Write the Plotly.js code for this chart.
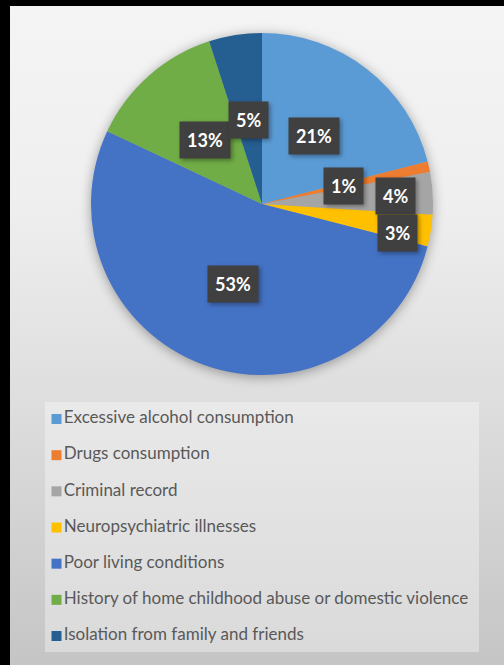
<!DOCTYPE html>
<html><head><meta charset="utf-8">
<script src="https://cdn.plot.ly/plotly-3.0.1.min.js"></script>
<style>
html,body{margin:0;padding:0;background:#fff;}
#wrap{position:relative;width:504px;height:665px;overflow:hidden;
background:linear-gradient(to bottom,#f4f4f4 0%,#efefef 30%,#dedede 60%,#c5c5c5 100%);}
#chart{position:absolute;left:0;top:0;width:504px;height:665px;}
#frame{position:absolute;left:0;top:0;width:504px;height:665px;border-top:6px solid #000;border-left:10px solid #000;box-sizing:border-box;pointer-events:none;}
.pielayer .trace{filter:drop-shadow(0px 2px 6px rgba(0,0,0,0.35));}
.annotation rect.bg{filter:drop-shadow(2px 2px 2px rgba(0,0,0,0.35));}
</style></head><body>
<div id="wrap"><div id="chart"></div><div id="frame"></div></div>
<script>
// ---- data ----
const categories = [
  "Excessive alcohol consumption",
  "Drugs consumption",
  "Criminal record",
  "Neuropsychiatric illnesses",
  "Poor living conditions",
  "History of home childhood abuse or domestic violence",
  "Isolation from family and friends"
];
const shares = [21, 1, 4, 3, 53, 13, 5];
const percentLabels = ["21%", "1%", "4%", "3%", "53%", "13%", "5%"];

// ---- styling / layout constants ----
const colors = ["#5B9BD5", "#ED7D31", "#A5A5A5", "#FFC000", "#4472C4", "#70AD47", "#255E91"];
const labelRadius = [0.5, 0.49, 0.78, 0.8, 0.5, 0.5, 0.5];
const labelShiftY = [0, 0, 0, -8, 0, 0, 0];
const W = 504, H = 665;
const cx = 262, cy = 204, R = 171;           // pie centre / radius in px
const legBox = {x0: 45, x1: 479, y0: 402, y1: 652, firstRow: 419, rowGap: 36.17, markerX: 11.5};

const pie = {
  type: 'pie',
  labels: categories,
  values: shares,
  sort: false,
  direction: 'clockwise',
  rotation: 0,
  textinfo: 'none',
  hoverinfo: 'label+percent',
  marker: {colors: colors, line: {width: 0}},
  domain: {x: [(cx - R) / W, (cx + R) / W], y: [1 - (cy + R) / H, 1 - (cy - R) / H]},
  showlegend: false
};

// legend drawn as a marker+text trace on a hidden axis
const legendTrace = {
  type: 'scatter',
  x: categories.map(() => 0),
  y: categories.map((_, i) => i),
  mode: 'markers+text',
  text: categories,
  textposition: 'middle right',
  textfont: {family: 'Lato, "DejaVu Sans", sans-serif', size: 17, color: '#595959'},
  marker: {symbol: 'square', size: 10, color: colors, line: {width: 0}},
  hoverinfo: 'skip',
  cliponaxis: false,
  showlegend: false
};

const total = shares.reduce((a, b) => a + b, 0);
let cum = 0;
const annotations = shares.map((v, i) => {
  const mid = (cum + v / 2) / total * 2 * Math.PI;
  cum += v;
  const px = cx + labelRadius[i] * R * Math.sin(mid);
  const py = cy - labelRadius[i] * R * Math.cos(mid);
  return {
    xref: 'paper', yref: 'paper', x: px / W, y: 1 - py / H,
    xanchor: 'center', yanchor: 'middle',
    text: '<b>' + percentLabels[i] + '</b>',
    showarrow: false,
    yshift: labelShiftY[i],
    bgcolor: '#404040',
    borderpad: 7,
    font: {family: 'Lato, "DejaVu Sans", sans-serif', size: 18, color: '#ffffff'}
  };
});

const pxPerUnit = legBox.rowGap;
const yTopVal = -(legBox.firstRow - legBox.y0) / pxPerUnit;
const yBotVal = (categories.length - 1) + (legBox.y1 - (legBox.firstRow + (categories.length - 1) * legBox.rowGap)) / pxPerUnit;

const layout = {
  width: W, height: H,
  margin: {l: 0, r: 0, t: 0, b: 0, pad: 0},
  paper_bgcolor: 'rgba(0,0,0,0)',
  plot_bgcolor: 'rgba(0,0,0,0)',
  showlegend: false,
  xaxis: {visible: false, fixedrange: true, domain: [legBox.x0 / W, legBox.x1 / W],
          range: [-legBox.markerX, (legBox.x1 - legBox.x0) - legBox.markerX]},
  yaxis: {visible: false, fixedrange: true, domain: [1 - legBox.y1 / H, 1 - legBox.y0 / H],
          range: [yBotVal, yTopVal]},
  shapes: [{
    type: 'rect', xref: 'x domain', yref: 'y domain', x0: 0, x1: 1, y0: 0, y1: 1,
    fillcolor: 'rgba(255,255,255,0.35)', line: {width: 0}, layer: 'below'
  }],
  annotations: annotations
};

Plotly.newPlot('chart', [legendTrace, pie], layout, {displayModeBar: false, staticPlot: true});
</script>
</body></html>
